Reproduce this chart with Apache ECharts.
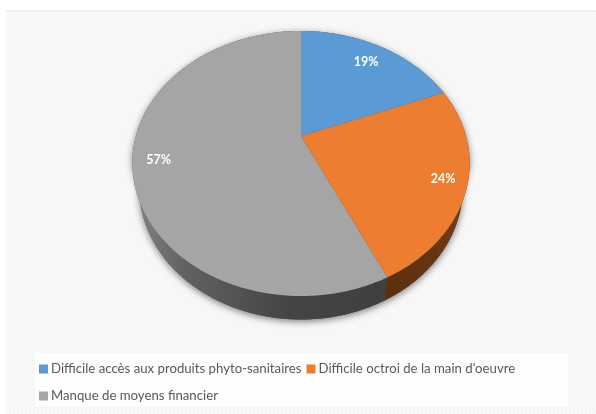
<!DOCTYPE html>
<html><head><meta charset="utf-8">
<style>html,body{margin:0;padding:0;background:#fff}#c{width:596px;height:414px}</style>
<script src="https://cdn.jsdelivr.net/npm/echarts@6/dist/echarts.min.js"></script>
</head><body><div id="c"></div>
<script>
const categories = ["Difficile accès aux produits phyto-sanitaires", "Difficile octroi de la main d'oeuvre", "Manque de moyens financier"];
const values = [19, 24, 57];
const labels = ["19%", "24%", "57%"];
const topColors = ["#5b9bd5", "#ed7d31", "#a5a5a5"];

// Perspective disc projection
const CX = 301, CY = 136, RX = 165, RY = 126.8, K = 0.2075, DEPTH = 23.5, LOWER_SCALE = 0.96;
const labelRadius = [0.8, 0.865, 0.85];
const total = values.reduce((a, b) => a + b, 0);
function project(theta, f) {
  const s = Math.sin(theta) * f, c = Math.cos(theta) * f, w = 1 + K * c;
  return [CX + RX * s / w, CY - RY * c / w];
}
function arc(a0, a1, lower) {
  const n = Math.max(2, Math.ceil((a1 - a0) / 0.01)), pts = [];
  for (let i = 0; i <= n; i++) {
    const p = project(a0 + (a1 - a0) * i / n, 1);
    pts.push(lower ? [CX + (p[0] - CX) * LOWER_SCALE, p[1] + DEPTH] : p);
  }
  return pts;
}
const FRONT0 = Math.acos(-K), FRONT1 = 2 * Math.PI - FRONT0;
const wallFill = [null,
  {type:'linear',x:0,y:0,x2:1,y2:0,colorStops:[{offset:0,color:'#5a2f0f'},{offset:0.6,color:'#673611'},{offset:1,color:'#7a4016'}]},
  {type:'linear',x:0,y:0,x2:1,y2:0,colorStops:[{offset:0,color:'#858585'},{offset:0.2,color:'#626262'},{offset:0.6,color:'#454545'},{offset:1,color:'#3f3f3f'}]}];

function sliceRenderer(idx) {
  return function (params, api) {
    let before = 0;
    for (let i = 0; i < idx; i++) before += values[i];
    const v = api.value(0);
    const a0 = before / total * 2 * Math.PI, a1 = (before + v) / total * 2 * Math.PI;
    const children = [];
    const w0 = Math.max(a0, FRONT0), w1 = Math.min(a1, FRONT1);
    if (w1 > w0) {
      const pts = arc(w0, w1, false).concat(arc(w0, w1, true).reverse());
      children.push({type:'polygon', shape:{points:pts}, style:{fill:wallFill[idx]}, silent:true});
    }
    children.push({type:'polygon', shape:{points:[[CX, CY]].concat(arc(a0, a1, false))},
      style:{fill:topColors[idx]}, silent:true});
    const lp = project((a0 + a1) / 2, labelRadius[idx]);
    children.push({type:'text', x:lp[0], y:lp[1], z2:10, silent:true,
      style:{text:labels[idx], fill:'#fff', font:'bold 12.5px Lato', align:'center', verticalAlign:'middle'}});
    return {type:'group', children};
  };
}

function hatch() {
  const c = document.createElement('canvas'); c.width = c.height = 4;
  const g = c.getContext('2d');
  g.fillStyle = '#fbfbfb'; g.fillRect(0,0,4,4);
  g.fillStyle = '#f3f3f3';
  for (let i = 0; i < 4; i++) { g.fillRect(i,i,1,1); g.fillRect((i+1)%4,i,1,1); }
  return c;
}

const shadowSeries = {
  type:'custom', name:'_shadow', coordinateSystem:'none', silent:true, z:1, data:[[1]],
  renderItem() {
    return {type:'polygon', shape:{points: arc(FRONT0, FRONT1, true).concat(arc(FRONT1, FRONT0 + 2*Math.PI, false))},
      style:{fill:'#555', shadowBlur:7, shadowColor:'rgba(0,0,0,0.5)', shadowOffsetY:2}};
  }
};
const order = [2, 1, 0];
const sliceSeries = order.map((idx, k) => ({
  type:'custom', name:categories[idx], coordinateSystem:'none', silent:true, z:2 + k,
  itemStyle:{color:topColors[idx]}, data:[[values[idx]]], renderItem:sliceRenderer(idx)
}));

const chart = echarts.init(document.getElementById('c'), null, {renderer:'canvas'});
chart.setOption({
  animation:false,
  backgroundColor:'#fff',
  graphic:[
    {type:'rect', z:-10, silent:true, shape:{x:6,y:12,width:590,height:402}, style:{fill:{image:hatch(), repeat:'repeat'}}},
    {type:'rect', z:-10, silent:true, shape:{x:6,y:10,width:590,height:2}, style:{fill:'#efefef'}},
    {type:'rect', z:-9, silent:true, shape:{x:35,y:353,width:533,height:54}, style:{fill:'rgba(255,255,255,0.75)'}}
  ],
  legend:{
    left:39, top:358, width:526, padding:0, itemGap:5, icon:'rect', itemWidth:9, itemHeight:9,
    selectedMode:false, data:categories,
    textStyle:{fontFamily:'Lato', fontSize:13.2, color:'#595959', lineHeight:22, padding:[0,0,0,-2]}
  },
  series:[shadowSeries].concat(sliceSeries)
});
</script></body></html>
